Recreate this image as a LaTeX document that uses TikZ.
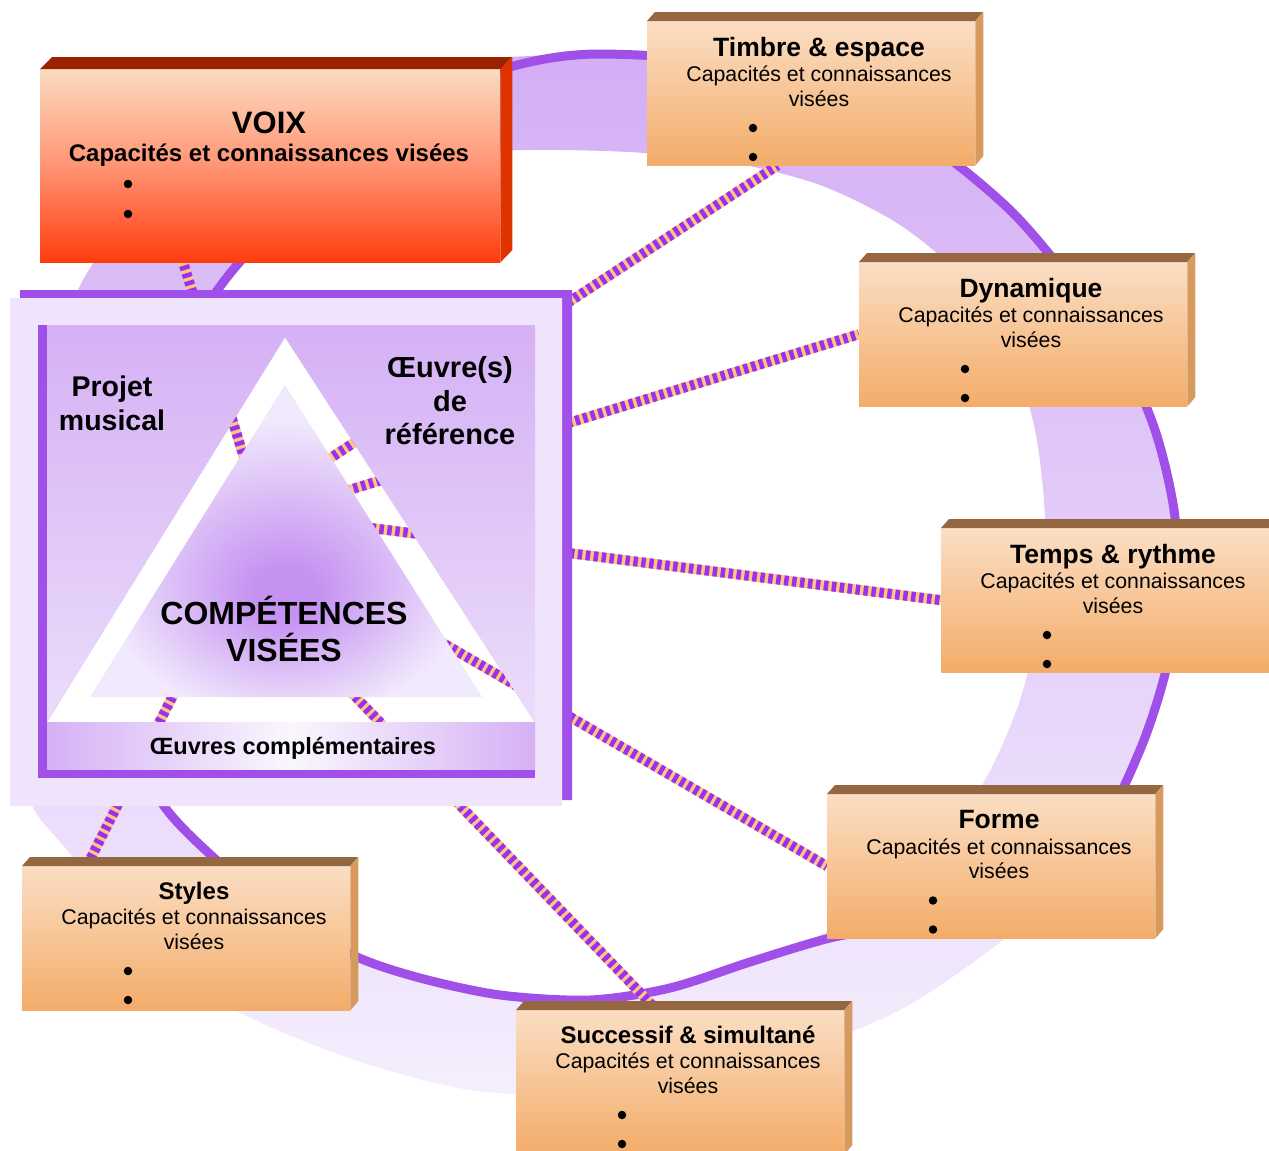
\documentclass[tikz,border=0pt]{standalone}
\usepackage{fontspec}
\setmainfont{Liberation Sans}

\definecolor{rimpurple}{HTML}{A050E8}
\definecolor{bandtop}{HTML}{D3AEF5}
\definecolor{bandbot}{HTML}{F4EEFD}
\definecolor{sqlight}{HTML}{F0E4FC}
\definecolor{sqtop}{HTML}{D5B1F5}
\definecolor{sqbot}{HTML}{EEE3FB}
\definecolor{stripA}{HTML}{FFC67E}
\definecolor{stripB}{HTML}{9A30F0}
\definecolor{boxtop}{HTML}{FBDEC4}
\definecolor{boxmid}{HTML}{F7C596}
\definecolor{boxbot}{HTML}{F3AC69}
\definecolor{boxlid}{HTML}{946740}
\definecolor{boxside}{HTML}{D6995E}
\definecolor{voxtop}{HTML}{FCDCC0}
\definecolor{voxmid}{HTML}{FF9474}
\definecolor{voxbot}{HTML}{FF3C0E}
\definecolor{voxlid}{HTML}{992300}
\definecolor{voxside}{HTML}{E03400}
\definecolor{tricore}{HTML}{C592F1}
\definecolor{triedge}{HTML}{F1E9FC}

\pgfdeclareradialshading{trishade}{\pgfpoint{0bp}{-9bp}}{%
  color(0bp)=(tricore); color(4bp)=(tricore); color(24bp)=(triedge); color(50bp)=(triedge)}

\pgfdeclarelayer{ring}
\pgfdeclarelayer{wire}
\pgfdeclarelayer{plate}
\pgfsetlayers{ring,wire,plate,main}

\tikzset{
  rim/.style={draw=rimpurple, line width=9pt},
  stripe/.style={draw=stripA, line width=10pt,
    postaction={draw=stripB, dash pattern=on 4.5pt off 3.5pt}},
  capbox/.style={rectangle, inner sep=0pt, anchor=north west,
    minimum width=328pt, minimum height=144pt,
    top color=boxtop, bottom color=boxbot, middle color=boxmid},
  voixbox/.style={rectangle, inner sep=0pt, anchor=north west,
    minimum width=460pt, minimum height=193pt,
    top color=voxtop, bottom color=voxbot, middle color=voxmid},
  capttl/.style={anchor=base, inner sep=0pt},
  captxt/.style={anchor=base, inner sep=0pt, font=\fontsize{21.3}{25}\selectfont},
  capdot/.style={circle, fill=black, inner sep=0pt, minimum size=8.5pt},
  midtxt/.style={anchor=base, inner sep=0pt, font=\fontsize{28.5}{34}\selectfont\bfseries}
}

% one box: name, x, y, title, title size, text drop
\newcommand{\capbox}[6]{%
  \node[capbox] (#1) at (#2,#3) {};
  \fill[boxlid] (#1.north west) -- ++(8,-9) -- ++(328,0) -- (#1.north east) -- cycle;
  \fill[boxside] (#1.north east) -- ++(8,-9) -- ++(0,144) -- (#1.south east) -- cycle;
  \node[capttl, font=\fontsize{#5}{#5}\selectfont\bfseries] (#1-t) at ([shift={(172,33+#6)}]#1.north west) {#4};
  \node[captxt] (#1-a) at ([shift={(172,58.5+#6)}]#1.north west) {Capacités et connaissances};
  \node[captxt] (#1-b) at ([shift={(172,83+#6)}]#1.north west) {visées};
  \node[capdot] (#1-p) at ([shift={(106,105+#6)}]#1.north west) {};
  \node[capdot] (#1-q) at ([shift={(106,134+#6)}]#1.north west) {};
}

\begin{document}
\begin{tikzpicture}[x=1pt,y=-1pt]
  \useasboundingbox (0,0) rectangle (1269,1151);
  \clip (0,0) rectangle (1269,1151);

  % the ring behind everything
  \begin{pgfonlayer}{ring}
    \shade[top color=bandtop, bottom color=bandbot, even odd rule]
      plot[smooth cycle] coordinates {(600,54) (720,62) (830,92) (930,145) (1010,210) (1070,280)
        (1120,350) (1155,430) (1174,510) (1178,590) (1166,670) (1140,750) (1100,825) (1060,890)
        (990,950) (900,1010) (790,1055) (680,1083) (570,1095) (470,1090) (370,1065) (277,1030)
        (200,990) (135,935) (67,850) (33,807) (18,740) (12,650) (14,560) (24,460) (45,370)
        (83,280) (120,230) (180,170) (260,118) (350,82) (440,62) (530,56)}
      plot[smooth cycle] coordinates {(560,150) (645,153) (730,162) (820,185) (900,225) (965,280)
        (1010,350) (1035,430) (1045,520) (1040,610) (1020,700) (985,780) (935,850) (870,905)
        (800,945) (750,962) (670,988) (590,1000) (500,995) (420,978) (357,957) (290,920)
        (213,857) (160,800) (130,720) (120,630) (125,540) (145,440) (180,350) (228,276)
        (300,205) (400,165) (480,152)};
    \draw[rim] plot[smooth cycle] coordinates {(600,54) (720,62) (830,92) (930,145) (1010,210)
      (1070,280) (1120,350) (1155,430) (1174,510) (1178,590) (1166,670) (1140,750) (1100,825)
      (1020,880) (920,920) (830,938) (750,962) (670,988) (590,1000) (500,995) (420,978)
      (357,957) (290,920) (213,857) (160,800) (130,720) (120,630) (125,540) (145,440)
      (180,350) (228,276) (290,210) (370,140) (460,85) (530,62)};
    \fill[white] (285,337) -- (47,722) -- (535,722) -- cycle;
  \end{pgfonlayer}

  % central square with the triangle
  \begin{pgfonlayer}{plate}
    \fill[rimpurple, even odd rule] (20,290) rectangle (572,800) (285,337) -- (47,722) -- (535,722) -- cycle;
    \fill[sqlight, even odd rule] (10,298) rectangle (562,806) (285,337) -- (47,722) -- (535,722) -- cycle;
    \shade[top color=sqtop, bottom color=sqbot, even odd rule] (38,325) rectangle (535,778)
      (285,337) -- (47,722) -- (535,722) -- cycle;
    \shade[left color=sqtop, right color=sqtop, middle color=white!70!sqbot] (47,722) rectangle (535,770);
    \fill[rimpurple] (38,325) rectangle (47,778);
    \fill[rimpurple] (38,770) rectangle (535,778);
    \shade[shading=trishade] (285,385) -- (90,697) -- (482,697) -- cycle;
  \end{pgfonlayer}

  \node[midtxt] (proj-a) at (112,396) {Projet};
  \node[midtxt] (proj-b) at (112,430) {musical};
  \node[midtxt, font=\fontsize{29}{34}\selectfont\bfseries] (ref-a) at (450,377) {Œuvre(s)};
  \node[midtxt, font=\fontsize{29}{34}\selectfont\bfseries] (ref-b) at (450,411) {de};
  \node[midtxt, font=\fontsize{29}{34}\selectfont\bfseries] (ref-c) at (450,444) {référence};
  \node[midtxt, font=\fontsize{32}{36}\selectfont\bfseries] (comp-a) at (284,624) {COMPÉTENCES};
  \node[midtxt, font=\fontsize{32}{36}\selectfont\bfseries] (comp-b) at (284,661) {VISÉES};
  \node[midtxt, font=\fontsize{23.5}{26}\selectfont\bfseries] (compl) at (293,754) {Œuvres complémentaires};

  % VOIX box
  \node[voixbox] (voix) at (40,69) {};
  \fill[voxlid] (voix.north west) -- ++(12,-12) -- ++(460,0) -- (voix.north east) -- cycle;
  \fill[voxside] (voix.north east) -- ++(12,-12) -- ++(0,193) -- (voix.south east) -- cycle;
  \node[capttl, font=\fontsize{31}{31}\selectfont\bfseries] (voix-t) at ([shift={(229,64)}]voix.north west) {VOIX};
  \node[capttl, font=\fontsize{24}{24}\selectfont\bfseries] (voix-a) at ([shift={(229,92)}]voix.north west) {Capacités et connaissances visées};
  \node[capdot] (voix-p) at ([shift={(88,115)}]voix.north west) {};
  \node[capdot] (voix-q) at ([shift={(88,145)}]voix.north west) {};

  % the six other boxes
  \capbox{timbre}{647}{21}{Timbre \& espace}{26.5}{2}
  \capbox{dyn}{859}{262}{Dynamique}{26.5}{2}
  \capbox{temps}{941}{528}{Temps \& rythme}{26.5}{2}
  \capbox{forme}{827}{794}{Forme}{26.5}{1.5}
  \capbox{styles}{22}{866}{Styles}{24}{0}
  \capbox{succ}{516}{1010}{Successif \& simultané}{24}{0}

  % connectors, from under the triangle out to the boxes
  \coordinate (hV) at (276,560);
  \coordinate (hT) at (300,478);
  \coordinate (hD) at (300,505);
  \coordinate (hR) at (300,519);
  \coordinate (hF) at (300,560);
  \coordinate (hS) at (322,662);
  \coordinate (hY) at (201,640);
  \begin{pgfonlayer}{wire}
    \draw[stripe] (hV) -- (voix.228);
    \draw[stripe] (hT) -- (timbre.245);
    \draw[stripe] (hD) -- (dyn.west);
    \draw[stripe] (hR) -- (temps.west);
    \draw[stripe] (hF) -- (forme.west);
    \draw[stripe] (hS) -- (succ.108);
    \draw[stripe] (hY) -- (styles.144);
  \end{pgfonlayer}
\end{tikzpicture}
\end{document}
